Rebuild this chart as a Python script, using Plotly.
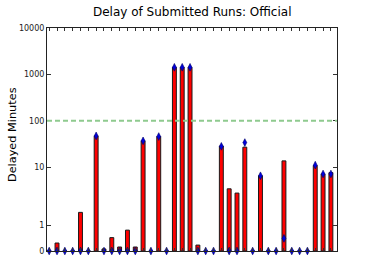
import numpy as np
import plotly.graph_objects as go

# ---- data ----
run_index = list(range(37))
bar_delay = [0, 0.31, 0, 0, 1.5, 0, 47, 0.08, 0.52, 0.155, 0.81, 0.155, 36.8, 0, 45.6, 0,
             1420, 1420, 1420, 0.23, 0, 0, 28.5, 3.4, 2.75, 26.9, 0, 6.5, 0, 0, 13.6,
             0, 0, 0, 10.8, 7.1, 7.6]
marker_delay = [0, 0, 0, 0, 0, 0, 47, 0, 0, 0, 0, 0, 36.8, 0, 45.6, 0,
                1420, 1420, 1420, 0, 0, 0, 28, 0, 0, 33.8, 0, 6.5, 0, 0, 0.49,
                0, 0, 0, 11, 7.1, 7.1]
y_tick_values = [0, 1, 10, 100, 1000, 10000]
y_tick_labels = ["0", "1", "10", "100", "1000", "10000"]
threshold_minutes = 100
title_text = "Delay of Submitted Runs: Official"
y_label = "Delayed Minutes"


def symlog(v, linthresh=2.0, base=10.0, linscale=1.0):
    """Symmetric log scale (same as matplotlib's symlog)."""
    adj = linscale / (1.0 - 1.0 / base)
    v = np.asarray(v, dtype=float)
    a = np.abs(v)
    logpart = adj + np.log10(np.maximum(a, 1e-12) / linthresh)
    return np.where(a <= linthresh, v * adj / linthresh, np.sign(v) * logpart)


W, H = 374, 280
fig = go.Figure()

fig.add_trace(go.Bar(
    x=run_index, y=symlog(bar_delay), width=0.5,
    marker=dict(color="#ff0000", line=dict(color="#1a1a1a", width=1)),
    hoverinfo="skip",
))
fig.add_trace(go.Scatter(
    x=run_index, y=symlog(marker_delay), mode="markers",
    marker=dict(symbol="diamond-tall", size=5.5, color="#0000dd",
                line=dict(color="#000066", width=0.6)),
    cliponaxis=False, hoverinfo="skip",
))

fig.add_shape(type="line", xref="paper", x0=0, x1=1,
              yref="y", y0=float(symlog(threshold_minutes)), y1=float(symlog(threshold_minutes)),
              line=dict(color="#8fca8f", width=2, dash="5px,3px"), layer="above")

fig.add_annotation(text=title_text, xref="paper", x=0.5, yref="paper", y=1,
                   yshift=16, showarrow=False, xanchor="center", yanchor="middle",
                   font=dict(family="DejaVu Sans", size=12, color="#000000"))
fig.add_annotation(text=y_label, xref="paper", x=0, xshift=-35, yref="paper", y=0.52,
                   showarrow=False, textangle=-90, xanchor="center", yanchor="middle",
                   font=dict(family="DejaVu Sans", size=11.3, color="#000000"))

fig.update_layout(
    width=W, height=H,
    margin=dict(l=47, r=37, t=28, b=29, autoexpand=False),
    paper_bgcolor="white", plot_bgcolor="white",
    showlegend=False, bargap=0, hovermode=False,
    font=dict(family="DejaVu Sans", size=8, color="#000000"),
)
fig.update_xaxes(
    range=[-0.28, 36.78], tickvals=run_index, showticklabels=False,
    ticks="inside", ticklen=3, tickcolor="#333333", tickwidth=1,
    showline=True, linecolor="#222222", linewidth=1, mirror="allticks",
    showgrid=False, zeroline=False, automargin=False,
)
fig.update_yaxes(
    range=[0, float(symlog(10000))],
    tickvals=[float(t) for t in symlog(y_tick_values)], ticktext=y_tick_labels,
    ticks="inside", ticklen=4, tickcolor="#333333", tickwidth=1,
    tickfont=dict(family="DejaVu Sans", size=8, color="#222222"),
    showline=True, linecolor="#222222", linewidth=1, mirror="allticks",
    showgrid=False, zeroline=False, automargin=False,
)

# remove the browser's default 8px body margin so the figure fills the window
fig.write_html("out.html",
               config={"displayModeBar": False, "staticPlot": True},
               post_script="document.body.style.margin='0';document.body.style.overflow='hidden';")
